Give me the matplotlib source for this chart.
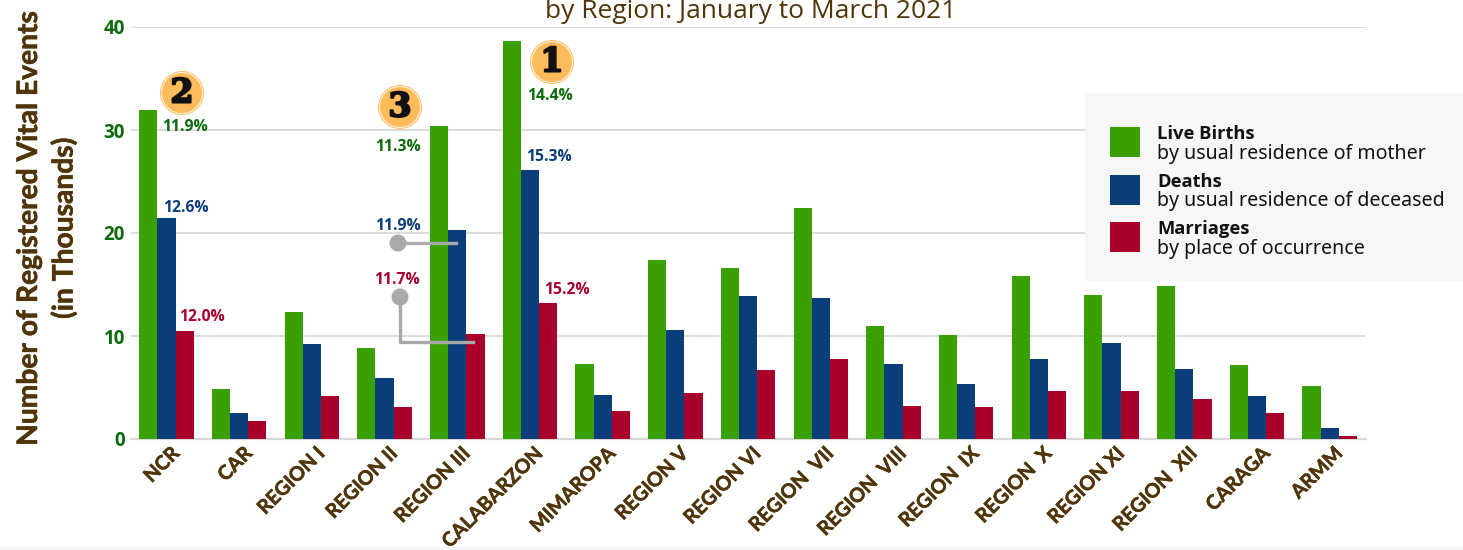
import matplotlib
matplotlib.use("Agg")
import matplotlib.pyplot as plt
import matplotlib.patheffects as pe
from matplotlib.patches import Rectangle, Ellipse
from matplotlib.lines import Line2D
from matplotlib.transforms import ScaledTranslation
import numpy as np

regiones = ["NCR", "CAR", "REGION I", "REGION II", "REGION III", "CALABARZON", "MIMAROPA",
            "REGION V", "REGION VI", "REGION  VII", "REGION  VIII", "REGION  IX", "REGION  X",
            "REGION XI", "REGION  XII", "CARAGA", "ARMM"]
nacimientos = [31.9, 4.9, 12.3, 8.8, 30.4, 38.6, 7.3, 17.4, 16.6, 22.4, 11.0, 10.1, 15.8, 14.0, 14.9, 7.2, 5.1]
muertes = [21.5, 2.5, 9.2, 5.9, 20.3, 26.1, 4.3, 10.6, 13.9, 13.7, 7.3, 5.3, 7.8, 9.3, 6.8, 4.2, 1.1]
matrimonios = [10.5, 1.7, 4.2, 3.1, 10.2, 13.2, 2.7, 4.5, 6.7, 7.8, 3.2, 3.1, 4.7, 4.7, 3.9, 2.5, 0.3]
ticks_y = [0, 10, 20, 30, 40]

VERDE = "#38A000"
AZUL = "#0A3D7A"
ROJO = "#A8002B"
CAFE = "#4F3508"
VERDE_TXT = "#0B6B0B"
GRIS = "#A9A9A9"

W, H = 1463, 550


# coordenadas en pixeles de la imagen (y hacia abajo)
def fx(px):
    return px / W


def fy(py):
    return 1 - py / H


fig = plt.figure(figsize=(W / 100, H / 100), dpi=100)
fig.patch.set_facecolor("white")
fig.add_artist(Rectangle((0, 0), 1, fy(547), transform=fig.transFigure, color="#F8F8F8", lw=0))

ax = fig.add_axes([fx(131), fy(439), fx(1366 - 131), fy(27) - fy(439)])
x = np.arange(len(regiones))
ancho = 0.25
ax.bar(x - ancho, nacimientos, ancho, color=VERDE, zorder=3)
ax.bar(x, muertes, ancho, color=AZUL, zorder=3)
ax.bar(x + ancho, matrimonios, ancho, color=ROJO, zorder=3)

ax.set_xlim(-0.488, 16.5)
ax.set_ylim(0, 40)
ax.set_yticks(ticks_y)
ax.set_xticks(x)
ax.set_xticklabels(regiones, rotation=45, ha="right", va="top", rotation_mode="anchor",
                   fontsize=14.2, fontweight="bold", color=CAFE, family="Lato")
ax.tick_params(axis="x", length=0, pad=5)
ax.tick_params(axis="y", length=0, pad=4.5, labelcolor=VERDE_TXT)
# mover las etiquetas un poco a la derecha y arriba
corrimiento = ScaledTranslation(3 / 100, 3 / 100, fig.dpi_scale_trans)
for t in ax.get_xticklabels():
    t.set_transform(t.get_transform() + corrimiento)
    t.set_path_effects([pe.withStroke(linewidth=0.35, foreground=CAFE)])
for t in ax.get_yticklabels():
    t.set_fontsize(13.5)
    t.set_fontweight("bold")
    t.set_family("Open Sans")
ax.grid(axis="y", color="#D9D9D9", linewidth=1.3, zorder=0)
ax.set_axisbelow(True)
for s in ["top", "left", "right", "bottom"]:
    ax.spines[s].set_visible(False)
ax.plot([0, 1], [0, 0], transform=ax.transAxes, color="#D9D9D9", lw=1.6, clip_on=False, zorder=2)

# titulo cortado arriba y eje y
fig.text(fx(751), fy(11), "by Region: January to March 2021", ha="center", va="center",
         fontsize=19, color=CAFE, family="Open Sans")
trazo = [pe.withStroke(linewidth=0.4, foreground=CAFE)]
fig.text(fx(29), fy(228), "Number of Registered Vital Events", rotation=90, ha="center", va="center",
         fontsize=20.3, fontweight="bold", color=CAFE, family="Lato", path_effects=trazo)
fig.text(fx(64), fy(228), "(in Thousands)", rotation=90, ha="center", va="center",
         fontsize=20.3, fontweight="bold", color=CAFE, family="Lato", path_effects=trazo)

# porcentajes
etiquetas = [
    (185, 127, "11.9%", VERDE_TXT), (186, 208, "12.6%", AZUL), (202, 317, "12.0%", ROJO),
    (398, 147, "11.3%", VERDE_TXT), (398, 226, "11.9%", AZUL), (397, 280, "11.7%", ROJO),
    (550, 96, "14.4%", VERDE_TXT), (549, 157, "15.3%", AZUL), (567, 290, "15.2%", ROJO),
]
for px, py, texto, color in etiquetas:
    fig.text(fx(px), fy(py), texto, ha="center", va="center", fontsize=11.3,
             fontweight="bold", color=color, family="Open Sans")

# guias grises
guias = [([398, 456], [243, 243]), ([400, 400, 473], [297, 342, 342])]
for xs, ys in guias:
    fig.add_artist(Line2D([fx(v) for v in xs], [fy(v) for v in ys], color=GRIS, lw=2.4, zorder=6))
for px, py in [(398, 243), (400, 297)]:
    fig.add_artist(Ellipse((fx(px), fy(py)), 17 / W, 17 / H, transform=fig.transFigure,
                           color=GRIS, lw=0, zorder=7))

# circulos de ranking
for px, py, n in [(552, 62, "1"), (182, 93, "2"), (400, 107, "3")]:
    fig.add_artist(Ellipse((fx(px), fy(py)), 44 / W, 44 / H, transform=fig.transFigure,
                           facecolor="#FDBB5C", edgecolor="white", lw=0, zorder=7))
    fig.add_artist(Ellipse((fx(px), fy(py)), 41 / W, 41 / H, transform=fig.transFigure,
                           facecolor="none", edgecolor="#FFF3DC", lw=0.8, zorder=8))
    fig.text(fx(px), fy(py), n, ha="center", va="center", fontsize=24, fontweight="bold",
             color="#111111", family="DejaVu Serif", zorder=9,
             path_effects=[pe.withStroke(linewidth=1.5, foreground="#111111")])

# leyenda hecha a mano
fig.add_artist(Rectangle((fx(1085), fy(281)), fx(1463 - 1085), fy(93) - fy(281),
                         transform=fig.transFigure, color="#F7F7F7", lw=0, zorder=5))
leyenda = [
    (127, VERDE, "Live Births", "by usual residence of mother"),
    (174.5, AZUL, "Deaths", "by usual residence of deceased"),
    (222, ROJO, "Marriages", "by place of occurrence"),
]
for py, color, titulo, detalle in leyenda:
    fig.add_artist(Rectangle((fx(1110), fy(py + 30)), 30 / W, 30 / H, transform=fig.transFigure,
                             color=color, lw=0, zorder=6))
    fig.text(fx(1157), fy(py + 7), titulo, ha="left", va="center", fontsize=13.2,
             fontweight="bold", color="#111111", family="Open Sans", zorder=6)
    fig.text(fx(1157), fy(py + 26.5), detalle, ha="left", va="center", fontsize=14.1,
             color="#111111", family="Noto Sans", zorder=6)

fig.savefig("out.png", dpi=100)
